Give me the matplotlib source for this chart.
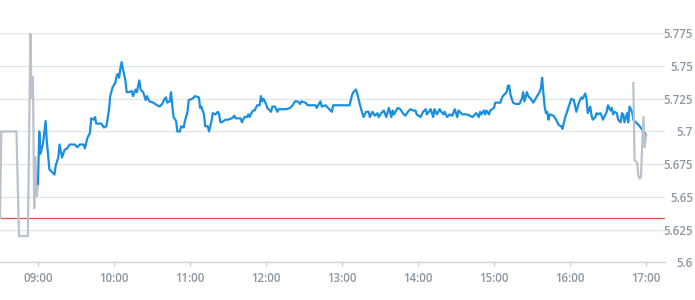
import matplotlib
matplotlib.use("Agg")
import matplotlib.pyplot as plt
import matplotlib.dates as mdates
import pandas as pd

# ---- data ----
pre_times = ["08:30", "08:31", "08:43", "08:45", "08:52", "08:54", "08:55", "08:56",
             "08:57", "08:58", "08:59", "09:00"]
pre_values = [5.634, 5.700, 5.700, 5.620, 5.620, 5.775, 5.725, 5.742,
              5.641, 5.681, 5.650, 5.660]

main_times = [
    "09:00", "09:01", "09:02", "09:04", "09:06", "09:07", "09:09", "09:11", "09:13", "09:14",
    "09:16", "09:17", "09:19", "09:21", "09:23", "09:25", "09:29", "09:31", "09:33", "09:36",
    "09:37", "09:39", "09:41", "09:42", "09:44", "09:45", "09:46", "09:50", "09:52", "09:54",
    "09:56", "09:57", "09:59", "10:01", "10:02", "10:03", "10:04", "10:05", "10:06", "10:07",
    "10:09", "10:10", "10:12", "10:14", "10:15", "10:17", "10:18", "10:20", "10:21", "10:23",
    "10:25", "10:26", "10:28", "10:31", "10:34", "10:36", "10:38", "10:40", "10:41", "10:42",
    "10:44", "10:45", "10:46", "10:47", "10:49", "10:50", "10:52", "10:53", "10:55", "10:56",
    "10:58", "10:59", "11:02", "11:04", "11:07", "11:08", "11:09", "11:11", "11:12", "11:14",
    "11:15", "11:17", "11:18", "11:20", "11:22", "11:23", "11:24", "11:25", "11:28", "11:30",
    "11:33", "11:35", "11:36", "11:40", "11:41", "11:43", "11:45", "11:46", "11:47", "11:49",
    "11:50", "11:51", "11:53", "11:55", "11:56", "11:57", "11:58", "12:00", "12:01", "12:03",
    "12:04", "12:05", "12:07", "12:09", "12:10", "12:16", "12:19", "12:21", "12:23", "12:25",
    "12:27", "12:28", "12:31", "12:33", "12:39", "12:40", "12:43", "12:44", "12:47", "12:49",
    "12:52", "12:53", "12:56", "13:06", "13:08", "13:09", "13:11", "13:12", "13:14", "13:16",
    "13:17", "13:19", "13:21", "13:22", "13:24", "13:26", "13:28", "13:29", "13:31", "13:33",
    "13:35", "13:37", "13:39", "13:40", "13:41", "13:44", "13:46", "13:48", "13:50", "13:52",
    "13:54", "13:56", "13:58", "13:59", "14:02", "14:04", "14:06", "14:07", "14:10", "14:12",
    "14:13", "14:15", "14:17", "14:20", "14:21", "14:23", "14:25", "14:27", "14:29", "14:31",
    "14:32", "14:35", "14:39", "14:41", "14:43", "14:45", "14:46", "14:48", "14:49", "14:50",
    "14:52", "14:53", "14:54", "14:56", "14:57", "15:00", "15:01", "15:05", "15:06", "15:07",
    "15:10", "15:11", "15:12", "15:13", "15:15", "15:17", "15:20", "15:22", "15:23", "15:24",
    "15:26", "15:27", "15:29", "15:31", "15:34", "15:36", "15:37", "15:38", "15:39", "15:40",
    "15:41", "15:42", "15:43", "15:44", "15:47", "15:49", "15:51", "15:53", "15:54", "15:56",
    "15:58", "16:00", "16:01", "16:03", "16:05", "16:07", "16:09", "16:10", "16:12", "16:13",
    "16:14", "16:16", "16:17", "16:18", "16:20", "16:21", "16:22", "16:24", "16:25", "16:26",
    "16:28", "16:29", "16:30", "16:32", "16:33", "16:34", "16:35", "16:37", "16:38", "16:40",
    "16:41", "16:42", "16:43", "16:45", "16:46", "16:47", "16:49", "16:50", "16:53", "16:55",
    "16:58", "16:59", "17:00",
]
main_values = [
    5.660, 5.700, 5.683, 5.691, 5.708, 5.692, 5.671, 5.669, 5.667, 5.674,
    5.680, 5.690, 5.680, 5.686, 5.687, 5.690, 5.690, 5.688, 5.690, 5.690,
    5.687, 5.695, 5.699, 5.710, 5.709, 5.711, 5.706, 5.706, 5.703, 5.704,
    5.716, 5.727, 5.734, 5.737, 5.742, 5.744, 5.741, 5.748, 5.753, 5.748,
    5.739, 5.730, 5.730, 5.731, 5.727, 5.732, 5.730, 5.739, 5.732, 5.730,
    5.724, 5.727, 5.723, 5.722, 5.720, 5.719, 5.721, 5.725, 5.726, 5.722,
    5.723, 5.730, 5.720, 5.711, 5.708, 5.700, 5.700, 5.704, 5.703, 5.708,
    5.715, 5.724, 5.725, 5.727, 5.726, 5.718, 5.719, 5.713, 5.704, 5.704,
    5.700, 5.708, 5.714, 5.713, 5.715, 5.713, 5.707, 5.707, 5.709, 5.709,
    5.710, 5.712, 5.710, 5.710, 5.707, 5.711, 5.711, 5.713, 5.711, 5.715,
    5.716, 5.716, 5.720, 5.720, 5.727, 5.723, 5.725, 5.721, 5.718, 5.716,
    5.715, 5.719, 5.719, 5.715, 5.717, 5.717, 5.718, 5.720, 5.723, 5.723,
    5.721, 5.723, 5.722, 5.720, 5.720, 5.718, 5.723, 5.719, 5.720, 5.718,
    5.715, 5.720, 5.720, 5.720, 5.728, 5.730, 5.732, 5.729, 5.721, 5.714,
    5.711, 5.715, 5.715, 5.711, 5.715, 5.712, 5.714, 5.711, 5.714, 5.716,
    5.711, 5.718, 5.711, 5.716, 5.713, 5.718, 5.717, 5.714, 5.712, 5.715,
    5.717, 5.716, 5.716, 5.713, 5.711, 5.715, 5.717, 5.713, 5.717, 5.711,
    5.717, 5.713, 5.717, 5.713, 5.715, 5.711, 5.713, 5.712, 5.717, 5.711,
    5.716, 5.713, 5.713, 5.712, 5.711, 5.713, 5.714, 5.711, 5.715, 5.713,
    5.716, 5.713, 5.716, 5.713, 5.716, 5.718, 5.722, 5.722, 5.725, 5.727,
    5.730, 5.735, 5.735, 5.728, 5.722, 5.721, 5.721, 5.725, 5.730, 5.723,
    5.730, 5.727, 5.725, 5.722, 5.727, 5.730, 5.733, 5.741, 5.729, 5.719,
    5.714, 5.715, 5.709, 5.713, 5.712, 5.709, 5.705, 5.704, 5.702, 5.710,
    5.716, 5.722, 5.725, 5.724, 5.715, 5.722, 5.726, 5.725, 5.729, 5.725,
    5.714, 5.719, 5.712, 5.709, 5.711, 5.714, 5.713, 5.714, 5.712, 5.709,
    5.713, 5.715, 5.720, 5.716, 5.718, 5.713, 5.715, 5.714, 5.709, 5.707,
    5.714, 5.713, 5.707, 5.714, 5.707, 5.719, 5.715, 5.709, 5.706, 5.704,
    5.700, 5.699, 5.697,
]

post_times = ["16:50", "16:51", "16:52", "16:53", "16:54", "16:55", "16:56", "16:57",
              "16:58", "16:59", "17:00"]
post_values = [5.737, 5.678, 5.677, 5.676, 5.666, 5.664, 5.665, 5.690,
               5.711, 5.688, 5.697]

reference_level = 5.634
y_ticks = [5.6, 5.625, 5.65, 5.675, 5.7, 5.725, 5.75, 5.775]
y_tick_labels = ["5.6", "5.625", "5.65", "5.675", "5.7", "5.725", "5.75", "5.775"]
x_tick_labels = ["09:00", "10:00", "11:00", "12:00", "13:00", "14:00", "15:00", "16:00", "17:00"]
x_start, x_end = "08:30", "17:15"

DAY = "2024-01-02 "
def to_dt(ts):
    return pd.to_datetime([DAY + t for t in ts])

# ---- figure ----
W, H, DPI = 695, 300, 100
fig = plt.figure(figsize=(W / DPI, H / DPI), dpi=DPI)
left, right = 0 / W, 665 / W
bottom, top = 1 - 262.3 / H, 1 - 33.3 / H
ax = fig.add_axes([left, bottom, right - left, top - bottom])

font = {"family": ["Open Sans", "DejaVu Sans"], "weight": "semibold"}
label_color = "#8a97a4"

ax.set_xlim(to_dt([x_start])[0], to_dt([x_end])[0])
ax.set_ylim(5.6, 5.775)

for s in ["top", "left", "right"]:
    ax.spines[s].set_visible(False)
ax.spines["bottom"].set_color("#ccd3da")
ax.spines["bottom"].set_linewidth(1.0)

ax.set_yticks(y_ticks)
ax.grid(axis="y", color="#e3e6e9", linewidth=1.0)
ax.set_axisbelow(True)
ax.yaxis.tick_right()
ax.tick_params(axis="y", length=0, pad=20.2)
ax.set_yticklabels(y_tick_labels, color=label_color, fontsize=8.3, **font)
for lab in ax.get_yticklabels():
    lab.set_horizontalalignment("right")
for i, lab in enumerate(ax.get_yticklabels()):
    pass

ax.set_xticks(to_dt(x_tick_labels))
ax.set_xticklabels(x_tick_labels, color=label_color, fontsize=8.3, **font)
ax.tick_params(axis="x", length=3, color="#d3d8dd", width=1, pad=4)

ax.axhline(reference_level, color="#d9534f", linewidth=0.9, zorder=2)

ax.plot(to_dt(pre_times), pre_values, color="#b8c3cd", linewidth=1.6, zorder=3,
        clip_on=False, solid_joinstyle="miter")
ax.plot(to_dt(main_times), main_values, color="#1a8fe0", linewidth=1.6, zorder=4,
        clip_on=False)
ax.plot(to_dt(post_times), post_values, color="#b8c3cd", linewidth=1.6, zorder=5,
        clip_on=False)

fig.savefig("out.png", dpi=DPI)
